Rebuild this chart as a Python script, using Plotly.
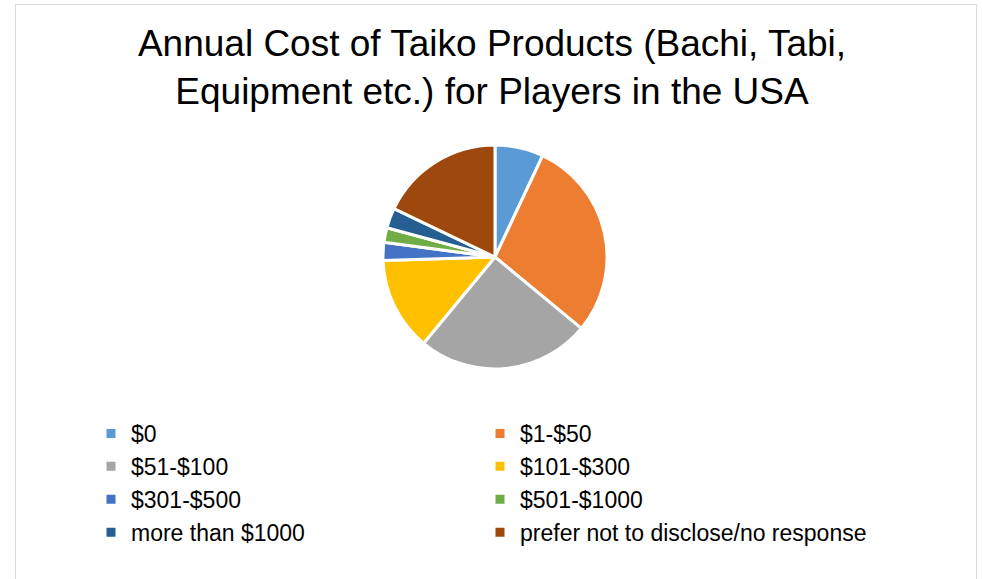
import plotly.graph_objects as go

# slice data, clockwise from 12 o'clock
labels = ["$0", "$1-$50", "$51-$100", "$101-$300", "$301-$500",
          "$501-$1000", "more than $1000", "prefer not to disclose/no response"]
shares = [7.0, 29.0, 25.0, 13.5, 2.6, 2.1, 2.9, 17.9]
colors = ["#5B9BD5", "#ED7D31", "#A5A5A5", "#FFC000", "#4472C4",
          "#70AD47", "#255E91", "#9E480E"]

W, H = 982, 579
font = "Arial, Liberation Sans, sans-serif"

fig = go.Figure()

fig.add_trace(go.Pie(
    labels=labels,
    values=shares,
    sort=False,
    direction="clockwise",
    rotation=0,
    marker=dict(colors=colors, line=dict(color="white", width=3)),
    textinfo="none",
    hoverinfo="label+percent",
    domain=dict(x=[(495 - 300) / W, (495 + 300) / W],
                y=[1 - 369 / H, 1 - 145 / H]),
))

# Title
fig.update_layout(
    title=dict(
        text="Annual Cost of Taiko Products (Bachi, Tabi,<br>Equipment etc.) for Players in the USA",
        x=492 / W, xanchor="center",
        y=1 - 56 / H, yanchor="top",
        font=dict(family=font, size=37, color="#000000"),
    ),
)

# chart border
fig.add_shape(type="rect", xref="paper", yref="paper",
              x0=15.5 / W, x1=976.5 / W, y0=-0.05, y1=1 - 4.5 / H,
              line=dict(color="#D9D9D9", width=1), fillcolor="rgba(0,0,0,0)")

fig.update_layout(
    width=W, height=H,
    margin=dict(l=0, r=0, t=0, b=0),
    paper_bgcolor="white",
    plot_bgcolor="white",
    showlegend=True,
    legend=dict(
        orientation="h",
        x=91 / W, xanchor="left",
        y=1 - 412 / H, yanchor="top",
        entrywidth=344, entrywidthmode="pixels",
        itemwidth=30,
        font=dict(family=font, size=23, color="#000000"),
        traceorder="normal",
    ),
)

# drop the default 8px page margin so figure pixels line up with the window
fig.write_html("out.html", config={"displayModeBar": False},
               post_script="document.body.style.margin = '0';")
